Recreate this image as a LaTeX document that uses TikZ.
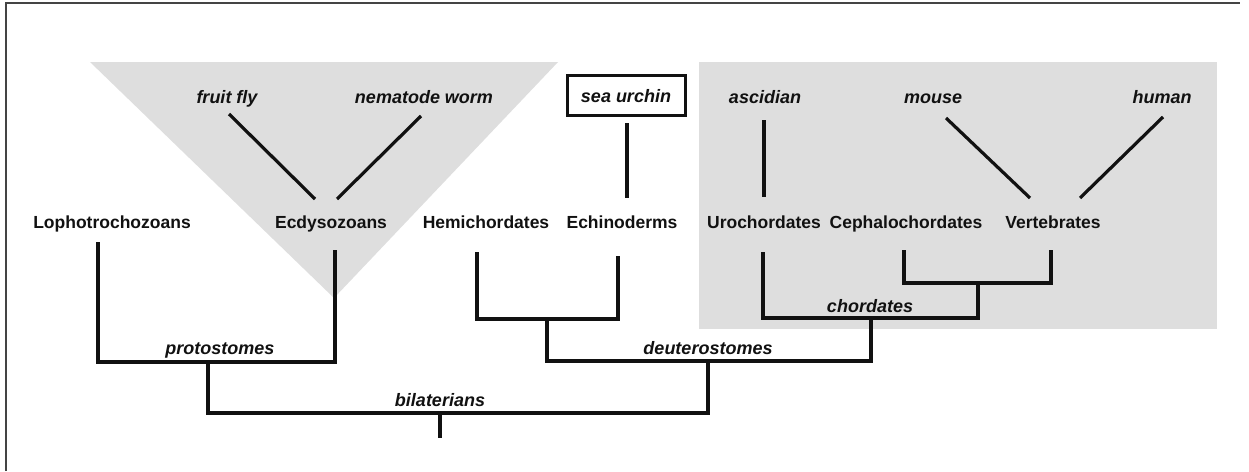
\documentclass[tikz,border=0pt]{standalone}
\usepackage{fontspec}
\setmainfont{Liberation Sans}
\definecolor{shadegray}{HTML}{DEDEDE}
\definecolor{framegray}{HTML}{444444}
\definecolor{ink}{HTML}{111111}
\begin{document}
\begin{tikzpicture}[x=1pt,y=-1pt,
  lab/.style={font=\fontsize{17.5}{21}\selectfont\bfseries, text=ink, inner sep=0pt, anchor=base},
  sp/.style={font=\fontsize{18}{21}\selectfont\bfseries\itshape, text=ink, inner sep=0pt, anchor=base},
  br/.style={line width=3.2pt, draw=ink, line cap=butt, line join=miter},
  shadearea/.style={fill=shadegray},
  framestyle/.style={draw=framegray, line width=2pt}
  ]
\useasboundingbox (0,0) rectangle (1249,471);
\fill[white] (0,0) rectangle (1249,471);
\draw[framestyle] (6,471) -- (6,3) -- (1240,3);

% shaded groups
\fill[shadearea] (90,62) -- (558,62) -- (334,298) -- cycle;
\fill[shadearea] (699,62) rectangle (1217,329);

% group labels
\node[lab] (lopho) at (112,228) {Lophotrochozoans};
\node[lab] (ecdy) at (331,228) {Ecdysozoans};
\node[lab] (hemi) at (486,228) {Hemichordates};
\node[lab] (echi) at (622,228) {Echinoderms};
\node[lab] (uro) at (764,228) {Urochordates};
\node[lab] (ceph) at (906,228) {Cephalochordates};
\node[lab] (vert) at (1053,228) {Vertebrates};

% species
\node[sp] (fly) at (227,103) {fruit fly};
\node[sp] (worm) at (424,103) {nematode worm};
\node[draw=ink, line width=3pt, minimum width=118pt, minimum height=40pt, inner sep=0pt] (urchin) at (626,95) {};
\node[sp] (urchintext) at (626,102) {sea urchin};
\node[sp] (asc) at (765,103) {ascidian};
\node[sp] (mouse) at (933,103) {mouse};
\node[sp] (human) at (1162,103) {human};

% clade labels
\node[sp] (proto) at (220,354) {protostomes};
\node[sp] (deut) at (708,354) {deuterostomes};
\node[sp] (chord) at (870,312) {chordates};
\node[sp] (bila) at (440,406) {bilaterians};

% species connectors
\coordinate (flyE) at (229,114);  \coordinate (ecdyL) at (315,199);
\coordinate (wormE) at (421,116); \coordinate (ecdyR) at (337,199);
\coordinate (urchinE) at (627,123); \coordinate (echiE) at (627,198);
\coordinate (ascE) at (764,120); \coordinate (uroE) at (764,197);
\coordinate (mouseE) at (946,118); \coordinate (vertL) at (1030,198);
\coordinate (humanE) at (1163,117); \coordinate (vertR) at (1080,198);
\draw[br] (flyE) -- (ecdyL);
\draw[br] (wormE) -- (ecdyR);
\draw[br] (urchinE) -- (echiE);
\draw[br] (ascE) -- (uroE);
\draw[br] (mouseE) -- (vertL);
\draw[br] (humanE) -- (vertR);

% tree
\coordinate (lophoT) at (98,242);
\coordinate (ecdyT) at (335,250);
\coordinate (pJ) at (208,362);
\coordinate (hemiT) at (477,252);
\coordinate (echiT) at (618,256);
\coordinate (heJ) at (547,319);
\coordinate (uroT) at (763,252);
\coordinate (cephT) at (904,250);
\coordinate (vertT) at (1051,250);
\coordinate (cvJ) at (978,283);
\coordinate (chJ) at (871,318);
\coordinate (dJ) at (708,361);
\coordinate (bJ) at (440,413);
\coordinate (root) at (440,438);

\draw[br] (lophoT) |- (pJ) -| (ecdyT);
\draw[br] (hemiT) |- (heJ) -| (echiT);
\draw[br] (cephT) |- (cvJ) -| (vertT);
\draw[br] (uroT) |- (chJ) -| (cvJ);
\draw[br] (heJ) |- (dJ) -| (chJ);
\draw[br] (pJ) |- (bJ) -| (dJ);
\draw[br] (bJ) -- (root);
\end{tikzpicture}
\end{document}
